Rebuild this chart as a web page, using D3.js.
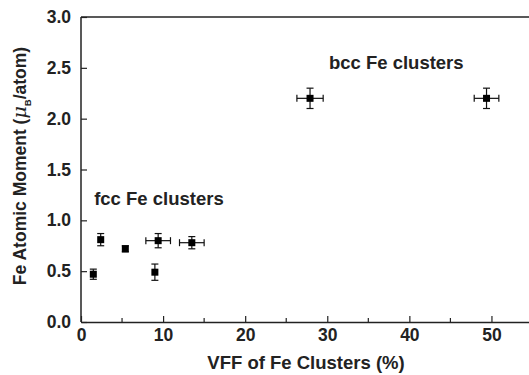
<!DOCTYPE html>
<html>
<head>
<meta charset="utf-8">
<script src="https://cdn.jsdelivr.net/npm/d3@7"></script>
<style>
  body { margin: 0; background: #fff; }
  text { font-family: "Liberation Sans", Arial, sans-serif; font-weight: bold; fill: #222; }
</style>
</head>
<body>
<svg id="chart" width="529" height="375"></svg>
<script>
// Fe cluster volume fraction (%) vs. Fe atomic moment (μB/atom)
const vff      = [1.5, 2.4, 5.4, 9.0, 9.4, 13.5, 27.9, 49.4];
const moment   = [0.47, 0.81, 0.72, 0.49, 0.80, 0.78, 2.20, 2.20];
const vffErr   = [0.0, 0.0, 0.0, 0.0, 1.5, 1.5, 1.6, 1.5];
const momErr   = [0.05, 0.06, 0.03, 0.08, 0.07, 0.06, 0.10, 0.10];
const xTicks   = [0, 10, 20, 30, 40, 50];
const xMinor   = [5, 15, 25, 35, 45];
const yTicks   = [0.0, 0.5, 1.0, 1.5, 2.0, 2.5, 3.0];
const notes    = [
  { text: "fcc Fe clusters", x: 1.6, y: 1.15 },
  { text: "bcc Fe clusters", x: 30.2, y: 2.49 }
];

const svg = d3.select("#chart");
const x = d3.scaleLinear().domain([0, 55]).range([81, 532.5]);
const y = d3.scaleLinear().domain([0, 3]).range([322, 17]);

const frame = svg.append("g");
// plot frame (left, top, bottom)
frame.append("line").attr("x1", x(0)).attr("x2", x(0)).attr("y1", y(0)).attr("y2", y(3))
  .attr("stroke", "#222").attr("stroke-width", 1.5);
frame.append("line").attr("x1", x(0)).attr("x2", x(55)).attr("y1", y(3)).attr("y2", y(3))
  .attr("stroke", "#222").attr("stroke-width", 1.5);

// x axis with inward ticks
const xAxis = svg.append("g").attr("transform", `translate(0,${y(0)})`)
  .call(d3.axisBottom(x).tickValues(xTicks).tickFormat(d3.format("d")).tickSizeInner(-6).tickSizeOuter(0).tickPadding(7));
xAxis.select(".domain").attr("stroke", "#222").attr("stroke-width", 1.5);
xAxis.selectAll(".tick line").attr("stroke", "#222").attr("stroke-width", 1.2);
xAxis.attr("font-size", null).attr("font-family", null);
xAxis.selectAll("text").attr("font-size", 17.5).attr("fill", "#222");
xAxis.selectAll(".minor").data(xMinor).enter().append("line")
  .attr("x1", d => x(d)).attr("x2", d => x(d)).attr("y1", 0).attr("y2", -4)
  .attr("stroke", "#222").attr("stroke-width", 1.2);

// y axis with inward ticks
const yAxis = svg.append("g").attr("transform", `translate(${x(0)},0)`)
  .call(d3.axisLeft(y).tickValues(yTicks).tickFormat(d3.format(".1f")).tickSizeInner(-6).tickSizeOuter(0).tickPadding(10));
yAxis.select(".domain").remove();
yAxis.attr("font-size", null).attr("font-family", null);
yAxis.selectAll(".tick line").attr("stroke", "#222").attr("stroke-width", 1.2);
yAxis.selectAll("text").attr("font-size", 17.5).attr("fill", "#222");

// axis titles
svg.append("text").attr("x", 306).attr("y", 369).attr("text-anchor", "middle")
  .attr("font-size", 18.5).text("VFF of Fe Clusters (%)");

const yTitle = svg.append("text").attr("transform", "translate(26,166) rotate(-90)")
  .attr("text-anchor", "middle").attr("font-size", 17.5);
yTitle.append("tspan").text("Fe Atomic Moment (");
yTitle.append("tspan").attr("font-style", "italic").attr("font-weight", "normal").attr("font-family", "DejaVu Serif").attr("font-size", 19).text("μ");
yTitle.append("tspan").attr("font-size", 9.5).attr("dy", 5).text("B");
yTitle.append("tspan").attr("dy", -5).text("/atom)");

// error bars and markers
const pts = vff.map((v, i) => ({ x: v, y: moment[i], ex: vffErr[i], ey: momErr[i] }));
const g = svg.append("g").attr("stroke", "#111").attr("stroke-width", 1.2);
const cap = 3.5;
pts.forEach(p => {
  if (p.ey > 0) {
    g.append("line").attr("x1", x(p.x)).attr("x2", x(p.x)).attr("y1", y(p.y - p.ey)).attr("y2", y(p.y + p.ey));
    [p.y - p.ey, p.y + p.ey].forEach(v =>
      g.append("line").attr("x1", x(p.x) - cap).attr("x2", x(p.x) + cap).attr("y1", y(v)).attr("y2", y(v)));
  }
  if (p.ex > 0) {
    g.append("line").attr("x1", x(p.x - p.ex)).attr("x2", x(p.x + p.ex)).attr("y1", y(p.y)).attr("y2", y(p.y));
    [p.x - p.ex, p.x + p.ex].forEach(v =>
      g.append("line").attr("x1", x(v)).attr("x2", x(v)).attr("y1", y(p.y) - cap).attr("y2", y(p.y) + cap));
  }
});
svg.append("g").selectAll("rect").data(pts).enter().append("rect")
  .attr("x", d => x(d.x) - 3.5).attr("y", d => y(d.y) - 3.5)
  .attr("width", 7).attr("height", 7).attr("fill", "#000");

// annotations
svg.append("g").selectAll("text").data(notes).enter().append("text")
  .attr("x", d => x(d.x)).attr("y", d => y(d.y))
  .attr("font-size", 18.5).text(d => d.text);
</script>
</body>
</html>
